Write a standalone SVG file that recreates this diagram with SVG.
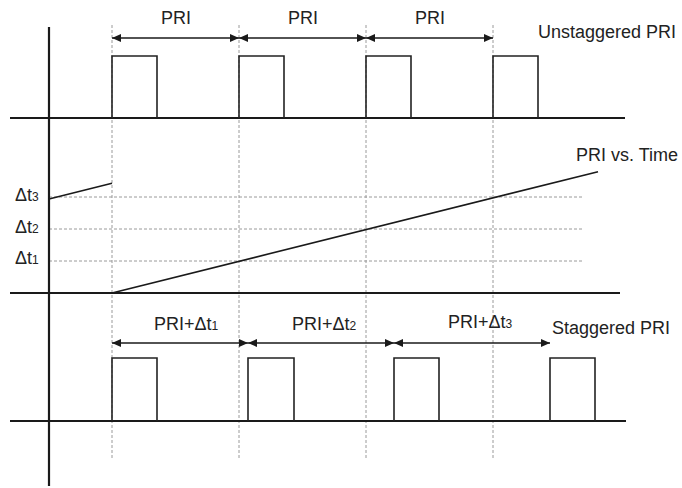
<svg xmlns="http://www.w3.org/2000/svg" width="682" height="488" viewBox="0 0 682 488">
  <style>
    .bg { fill: #ffffff; }
    .axis { stroke: #1a1a1a; stroke-width: 2.2; fill: none; }
    .pulse { stroke: #222222; stroke-width: 1.6; fill: none; }
    .grid { stroke: #9a9a9a; stroke-width: 1; stroke-dasharray: 3 2; fill: none; }
    .arrow { stroke: #1a1a1a; stroke-width: 1.5; fill: none; marker-start: url(#ah); marker-end: url(#ah); }
    .ramp { stroke: #1a1a1a; stroke-width: 1.6; fill: none; }
    .lbl { font-family: "Liberation Sans", Arial, sans-serif; font-size: 18px; fill: #222222; }
    .mid { text-anchor: middle; }
    .sub { font-size: 12px; }
  </style>
  <defs>
    <marker id="ah" markerUnits="userSpaceOnUse" markerWidth="9" markerHeight="8" refX="9" refY="4" orient="auto-start-reverse">
      <path d="M0,0 L9,4 L0,8 z" fill="#1a1a1a"/>
    </marker>
  </defs>
  <rect class="bg" x="0" y="0" width="682" height="488"/>

  <g id="gridlines">
    <line class="grid" x1="112" y1="25" x2="112" y2="459"/>
    <line class="grid" x1="239" y1="25" x2="239" y2="459"/>
    <line class="grid" x1="366" y1="25" x2="366" y2="459"/>
    <line class="grid" x1="493" y1="25" x2="493" y2="459"/>
    <line class="grid" x1="49" y1="197" x2="583" y2="197"/>
    <line class="grid" x1="49" y1="229" x2="583" y2="229"/>
    <line class="grid" x1="49" y1="261" x2="583" y2="261"/>
  </g>

  <g id="axes">
    <line class="axis" x1="49" y1="27" x2="49" y2="486"/>
    <line class="axis" x1="10" y1="118" x2="625" y2="118"/>
    <line class="axis" x1="10" y1="293" x2="620" y2="293"/>
    <line class="axis" x1="10" y1="421" x2="626" y2="421"/>
  </g>

  <g id="unstaggered-pulses">
    <polyline class="pulse" points="112,118 112,56 157,56 157,118"/>
    <polyline class="pulse" points="239,118 239,56 284,56 284,118"/>
    <polyline class="pulse" points="366,118 366,56 411,56 411,118"/>
    <polyline class="pulse" points="493,118 493,56 538,56 538,118"/>
  </g>

  <g id="staggered-pulses">
    <polyline class="pulse" points="112,421 112,358 157,358 157,421"/>
    <polyline class="pulse" points="248,421 248,358 294,358 294,421"/>
    <polyline class="pulse" points="394,421 394,358 439,358 439,421"/>
    <polyline class="pulse" points="550,421 550,358 595,358 595,421"/>
  </g>

  <g id="ramp">
    <line class="ramp" x1="49" y1="199" x2="112" y2="183.3"/>
    <line class="ramp" x1="112" y1="293" x2="598" y2="171.7"/>
  </g>

  <g id="connectors">
    <line class="arrow" x1="112" y1="38" x2="239" y2="38"/>
    <line class="arrow" x1="239" y1="38" x2="366" y2="38"/>
    <line class="arrow" x1="366" y1="38" x2="493" y2="38"/>
    <line class="arrow" x1="112" y1="343" x2="248" y2="343"/>
    <line class="arrow" x1="248" y1="343" x2="394" y2="343"/>
    <line class="arrow" x1="394" y1="343" x2="550" y2="343"/>
  </g>

  <g id="labels-top">
    <text class="lbl mid" x="176" y="24">PRI</text>
    <text class="lbl mid" x="303" y="24">PRI</text>
    <text class="lbl mid" x="430" y="24">PRI</text>
    <text class="lbl" x="538" y="38">Unstaggered PRI</text>
  </g>

  <g id="labels-mid">
    <text class="lbl" x="15" y="201">Δt<tspan class="sub">3</tspan></text>
    <text class="lbl" x="15" y="233">Δt<tspan class="sub">2</tspan></text>
    <text class="lbl" x="15" y="264">Δt<tspan class="sub">1</tspan></text>
    <text class="lbl" x="576" y="161">PRI vs. Time</text>
  </g>

  <g id="labels-bottom">
    <text class="lbl" x="154" y="330">PRI+Δt<tspan class="sub">1</tspan></text>
    <text class="lbl" x="292" y="330">PRI+Δt<tspan class="sub">2</tspan></text>
    <text class="lbl" x="448" y="328">PRI+Δt<tspan class="sub">3</tspan></text>
    <text class="lbl" x="552" y="334">Staggered PRI</text>
  </g>
</svg>
